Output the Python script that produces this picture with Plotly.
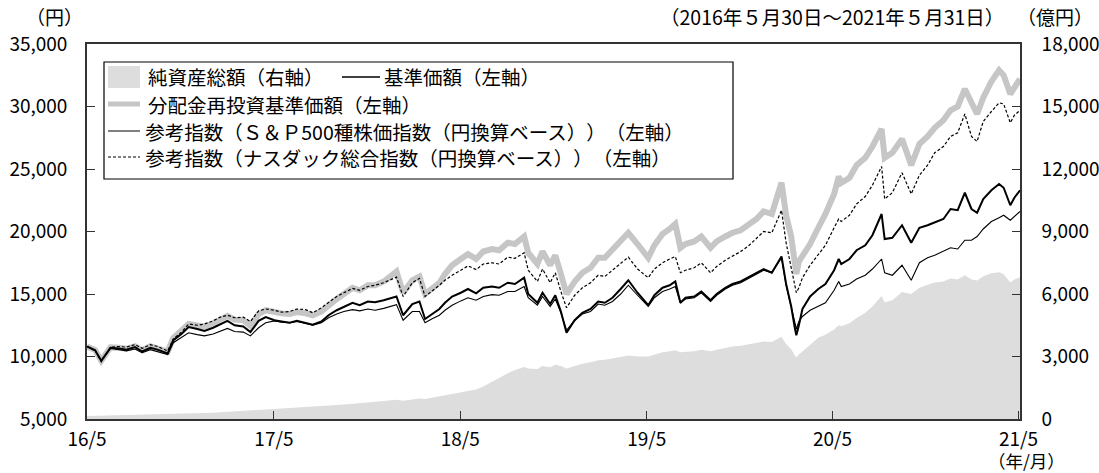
import plotly.graph_objects as go

dates = [
    "2016-05-30", "2016-06-15", "2016-06-27", "2016-07-15", "2016-08-01", "2016-08-15",
    "2016-09-01", "2016-09-15", "2016-10-01", "2016-10-15", "2016-11-04", "2016-11-15",
    "2016-12-01", "2016-12-15", "2017-01-01", "2017-01-15", "2017-02-01", "2017-02-15",
    "2017-03-01", "2017-03-15", "2017-04-01", "2017-04-15", "2017-05-01", "2017-05-15",
    "2017-06-01", "2017-06-15", "2017-07-01", "2017-07-15", "2017-08-01", "2017-08-15",
    "2017-09-01", "2017-09-15", "2017-10-01", "2017-10-15", "2017-11-01", "2017-11-15",
    "2017-12-01", "2017-12-15", "2018-01-01", "2018-01-26", "2018-02-08", "2018-02-26",
    "2018-03-12", "2018-03-23", "2018-04-05", "2018-04-20", "2018-05-01", "2018-05-15",
    "2018-06-01", "2018-06-15", "2018-07-01", "2018-07-15", "2018-08-01", "2018-08-15",
    "2018-09-01", "2018-09-15", "2018-10-03", "2018-10-11", "2018-10-29", "2018-11-08",
    "2018-11-23", "2018-12-03", "2018-12-14", "2018-12-25", "2019-01-10", "2019-01-25",
    "2019-02-10", "2019-02-25", "2019-03-10", "2019-03-25", "2019-04-10", "2019-04-25",
    "2019-05-13", "2019-06-03", "2019-06-15", "2019-07-01", "2019-07-15", "2019-07-26",
    "2019-08-05", "2019-08-15", "2019-09-01", "2019-09-15", "2019-10-03", "2019-10-15",
    "2019-11-01", "2019-11-15", "2019-12-01", "2019-12-15", "2020-01-01", "2020-01-15",
    "2020-01-31", "2020-02-19", "2020-02-28", "2020-03-09", "2020-03-16", "2020-03-19",
    "2020-03-24", "2020-03-31", "2020-04-15", "2020-05-01", "2020-05-15", "2020-06-01",
    "2020-06-10", "2020-06-15", "2020-07-01", "2020-07-15", "2020-08-01", "2020-08-15",
    "2020-09-02", "2020-09-08", "2020-09-23", "2020-10-12", "2020-10-30", "2020-11-15",
    "2020-12-01", "2020-12-15", "2021-01-01", "2021-01-15", "2021-01-29", "2021-02-12",
    "2021-02-25", "2021-03-08", "2021-03-20", "2021-04-05", "2021-04-20", "2021-04-29",
    "2021-05-12", "2021-05-20", "2021-05-31",
]

# 基準価額（左軸, 円）
nav = [
    10800, 10500, 9650, 10700, 10650, 10550, 10750, 10400, 10700, 10550, 10250, 11300,
    11800, 12350, 12200, 12050, 12300, 12600, 12850, 12500, 12400, 11950, 12850, 13150,
    12900, 12800, 12700, 12850, 12700, 12550, 12800, 13300, 13700, 14000, 14300, 14100,
    14400, 14350, 14500, 14800, 13300, 14200, 14400, 13000, 13400, 13800, 14300, 14800,
    15100, 15400, 15050, 15500, 15600, 15500, 15900, 15800, 16300, 15000, 14300, 15100,
    14200, 14900, 13600, 11900, 12900, 13500, 13800, 14400, 14300, 14700, 15400, 16100,
    15100, 14100, 14900, 15500, 15700, 16000, 14300, 14700, 14800, 15200, 14500, 15000,
    15500, 15800, 16000, 16300, 16700, 17000, 16700, 18000, 15800, 14000, 12300, 11700,
    12500, 13800, 14800, 15400, 15800, 16900, 17800, 17400, 17800, 18500, 18900, 19700,
    21400, 19400, 19500, 20500, 19100, 20300, 20500, 20700, 21000, 21800, 21700, 23100,
    21800, 21500, 22600, 23300, 23800, 23500, 22100, 22700, 23300,
]

# 分配金再投資基準価額（左軸, 円）
nav_reinvested = [
    10800, 10520, 9670, 10730, 10700, 10620, 10830, 10500, 10820, 10680, 10400, 11480,
    12000, 12600, 12480, 12380, 12650, 12980, 13250, 12950, 12900, 12450, 13400, 13700,
    13500, 13450, 13400, 13550, 13450, 13300, 13600, 14100, 14600, 15000, 15500, 15300,
    15700, 15700, 16000, 16800, 15100, 16100, 16400, 15000, 15400, 15900, 16600, 17300,
    17800, 18200, 17800, 18400, 18600, 18500, 19100, 19000, 19600, 18300, 17400, 18400,
    17300, 18100, 16600, 15000, 16000, 16700, 17100, 17900, 17900, 18500, 19300, 19900,
    19000, 17900, 18900, 19800, 20200, 20600, 18700, 19000, 19200, 19600, 18700, 19200,
    19600, 19900, 20100, 20500, 21000, 21600, 21400, 23900, 21300, 19600, 17700, 16600,
    17600, 18000, 19000, 20300, 21400, 23000, 24400, 23900, 24300, 25300, 25900, 26800,
    28200, 25900, 26300, 27400, 25300, 27000, 27600, 28300, 28900, 29700, 30000, 31400,
    30300, 29400, 30700, 32000, 32900, 32500, 31000, 31600, 32200,
]

# 参考指数（S&P500種株価指数（円換算ベース））（左軸）
sp500 = [
    10800, 10480, 9700, 10650, 10550, 10450, 10600, 10300, 10550, 10400, 10150, 11100,
    11500, 11900, 11750, 11650, 11800, 12050, 12250, 12000, 11950, 11650, 12300, 12700,
    12850, 12750, 12700, 12800, 12650, 12500, 12700, 13100, 13400, 13600, 13750, 13650,
    13800, 13700, 13850, 14150, 12900, 13600, 13600, 12700, 13000, 13300, 13700, 14100,
    14450, 14700, 14500, 14800, 14950, 14900, 15200, 15200, 15600, 14700, 14100, 14800,
    14000, 14600, 13500, 12100, 12900, 13400, 13600, 14200, 14100, 14400, 15000, 15700,
    14900, 14000, 14700, 15200, 15400, 15600, 14300, 14600, 14700, 15100, 14400, 14900,
    15400, 15700, 15900, 16200, 16600, 16900, 16700, 17900, 15700, 14000, 12600, 12200,
    12800, 13200, 13700, 14000, 14300, 15300, 16000, 15600, 15800, 16200, 16500, 17000,
    17800, 16700, 16500, 17300, 16100, 17500, 17900, 18100, 18400, 18700, 18600, 19300,
    19300, 19600, 20200, 20800, 21100, 21300, 20900, 21200, 21600,
]

# 参考指数（ナスダック総合指数（円換算ベース））（左軸）
nasdaq = [
    10800, 10450, 9600, 10750, 10800, 10750, 10950, 10650, 10950, 10800, 10450, 11400,
    11950, 12600, 12500, 12600, 12850, 13150, 13300, 13100, 13150, 12800, 13650, 13800,
    13700, 13550, 13600, 13800, 13750, 13500, 13900, 14300, 14800, 15100, 15450, 15300,
    15600, 15700, 15900, 16350, 14800, 15900, 16250, 14800, 15200, 15700, 16100, 16500,
    16900, 17250, 16950, 17400, 17500, 17400, 17950, 17850, 18300, 16900, 16000, 17000,
    15900, 16700, 15200, 13900, 14900, 15500, 15900, 16500, 16400, 16900, 17500, 17950,
    17000, 16300, 17000, 17500, 17800, 18000, 16700, 16900, 17100, 17500, 16700, 17200,
    17700, 18000, 18400, 18800, 19500, 20000, 19900, 21700, 19100, 17000, 15700, 15100,
    15500, 16300, 17300, 18200, 18900, 20300, 21000, 20800, 21300, 22200, 22800, 23700,
    25200, 22600, 23100, 24700, 23000, 24500, 25300, 26300, 26800, 27600, 27900, 29400,
    27600, 27200, 28800, 29600, 30300, 30200, 28700, 29300, 29700,
]

# 純資産総額（右軸, 億円）
net_assets = [
    150, 160, 160, 170, 180, 185, 190, 200, 205, 210, 215, 225,
    240, 255, 270, 285, 300, 320, 340, 360, 380, 400, 430, 460,
    490, 510, 530, 550, 570, 590, 610, 640, 670, 700, 730, 760,
    790, 820, 860, 930, 880, 940, 990, 960, 1020, 1080, 1130, 1180,
    1260, 1320, 1420, 1560, 1800, 2000, 2200, 2350, 2500, 2420, 2400, 2550,
    2480, 2600, 2550, 2420, 2550, 2650, 2720, 2820, 2850, 2900, 2980, 3050,
    3000, 3000, 3100, 3200, 3250, 3300, 3200, 3220, 3250, 3330, 3250, 3330,
    3420, 3480, 3520, 3580, 3650, 3720, 3700, 3950, 3600, 3350, 3050, 2950,
    3100, 3250, 3600, 3900, 4050, 4300, 4500, 4450, 4600, 4850, 5100, 5400,
    5900, 5600, 5700, 6100, 6000, 6300, 6450, 6550, 6600, 6750, 6700, 6900,
    6700, 6650, 6850, 7000, 7050, 6950, 6550, 6700, 6800,
]

x_tick_vals = ["2016-05-30", "2017-05-31", "2018-05-31", "2019-05-31", "2020-05-29", "2021-05-28"]
x_tick_text = ["16/5", "17/5", "18/5", "19/5", "20/5", "21/5"]
left_tick_vals = [5000, 10000, 15000, 20000, 25000, 30000, 35000]
left_tick_text = ["5,000", "10,000", "15,000", "20,000", "25,000", "30,000", "35,000"]
right_tick_vals = [0, 3000, 6000, 9000, 12000, 15000, 18000]
right_tick_text = ["0", "3,000", "6,000", "9,000", "12,000", "15,000", "18,000"]

FONT = "Noto Sans CJK JP, Noto Sans CJK SC, sans-serif"
FS = 19.5
TICK_FS = 19
AREA = "#dcdddc"
GRAYLINE = "#c6c6c6"
AX = "#333333"

fig = go.Figure()
fig.add_trace(go.Scatter(x=dates, y=net_assets, yaxis="y", mode="lines",
                         fill="tozeroy", fillcolor=AREA,
                         line=dict(width=0, color=AREA), name="純資産総額（右軸）",
                         showlegend=False, hoverinfo="skip"))
fig.add_trace(go.Scatter(x=dates, y=nav_reinvested, yaxis="y2", mode="lines",
                         line=dict(width=6, color=GRAYLINE), name="分配金再投資基準価額（左軸）",
                         showlegend=False))
fig.add_trace(go.Scatter(x=dates, y=nasdaq, yaxis="y2", mode="lines",
                         line=dict(width=1.2, color="#000000", dash="3px,2px"),
                         name="参考指数（ナスダック総合指数（円換算ベース））（左軸）",
                         showlegend=False))
fig.add_trace(go.Scatter(x=dates, y=sp500, yaxis="y2", mode="lines",
                         line=dict(width=1.1, color="#000000"),
                         name="参考指数（Ｓ＆Ｐ500種株価指数（円換算ベース））（左軸）",
                         showlegend=False))
fig.add_trace(go.Scatter(x=dates, y=nav, yaxis="y2", mode="lines",
                         line=dict(width=2, color="#000000"), name="基準価額（左軸）",
                         showlegend=False))

PL, PR, PT, PB = 87, 1020, 44, 419
W, H = 1099, 473


def px(x):
    return (x - PL) / (PR - PL)


def py(y):
    return (PB - y) / (PB - PT)


shapes = []
annotations = []
# legend box
shapes.append(dict(type="rect", xref="paper", yref="paper", x0=px(104), x1=px(733),
                   y0=py(179), y1=py(62), line=dict(color="#000000", width=1.2),
                   fillcolor="#ffffff", layer="above"))
rows = [77, 104, 131, 157]
# row 1: area swatch + NAV line
shapes.append(dict(type="rect", xref="paper", yref="paper", x0=px(108), x1=px(140),
                   y0=py(88), y1=py(66), line=dict(width=0), fillcolor=AREA, layer="above"))
annotations.append(dict(text="純資産総額（右軸）", x=px(146), y=py(rows[0]), xref="paper",
                        yref="paper", xanchor="left", yanchor="middle", showarrow=False))
shapes.append(dict(type="line", xref="paper", yref="paper", x0=px(342), x1=px(380),
                   y0=py(rows[0]), y1=py(rows[0]), line=dict(color="#000000", width=1.4),
                   layer="above"))
annotations.append(dict(text="基準価額（左軸）", x=px(382), y=py(rows[0]), xref="paper",
                        yref="paper", xanchor="left", yanchor="middle", showarrow=False))
# row 2
shapes.append(dict(type="line", xref="paper", yref="paper", x0=px(108), x1=px(140),
                   y0=py(rows[1]), y1=py(rows[1]), line=dict(color=GRAYLINE, width=5),
                   layer="above"))
annotations.append(dict(text="分配金再投資基準価額（左軸）", x=px(146), y=py(rows[1]),
                        xref="paper", yref="paper", xanchor="left", yanchor="middle",
                        showarrow=False))
# row 3 (xshift compensates the un-trimmed punctuation width)
shapes.append(dict(type="line", xref="paper", yref="paper", x0=px(108), x1=px(140),
                   y0=py(rows[2]), y1=py(rows[2]), line=dict(color="#000000", width=1),
                   layer="above"))
annotations.append(dict(text="参考指数（Ｓ＆Ｐ500種株価指数（円換算ベース））（左軸）",
                        x=px(146), y=py(rows[2]), xref="paper", yref="paper", xshift=7,
                        xanchor="left", yanchor="middle", showarrow=False))
# row 4
shapes.append(dict(type="line", xref="paper", yref="paper", x0=px(108), x1=px(140),
                   y0=py(rows[3]), y1=py(rows[3]),
                   line=dict(color="#000000", width=1, dash="3px,2px"), layer="above"))
annotations.append(dict(text="参考指数（ナスダック総合指数（円換算ベース））（左軸）",
                        x=px(146), y=py(rows[3]), xref="paper", yref="paper", xshift=7,
                        xanchor="left", yanchor="middle", showarrow=False))

# header / unit texts
annotations.append(dict(text="（円）", x=px(54), y=py(16), xref="paper", yref="paper",
                        xanchor="center", yanchor="middle", showarrow=False,
                        font=dict(size=19)))
annotations.append(dict(text="（2016年５月30日～2021年５月31日）", x=px(1006), y=py(17),
                        xref="paper", yref="paper", xanchor="right", yanchor="middle",
                        showarrow=False))
annotations.append(dict(text="（億円）", x=px(1055), y=py(16), xref="paper", yref="paper",
                        xanchor="center", yanchor="middle", showarrow=False,
                        font=dict(size=19)))
annotations.append(dict(text="（年/月）", x=px(1026), y=py(460), xref="paper", yref="paper",
                        xanchor="center", yanchor="middle", showarrow=False,
                        font=dict(size=17.5)))

fig.update_layout(
    width=W, height=H,
    margin=dict(l=PL, r=W - PR, t=PT, b=H - PB, autoexpand=False),
    paper_bgcolor="#ffffff", plot_bgcolor="#ffffff",
    font=dict(family=FONT, size=FS, color="#000000"),
    showlegend=False,
    shapes=shapes,
    annotations=annotations,
    xaxis=dict(type="date", range=["2016-05-30", "2021-05-31"],
               tickvals=x_tick_vals, ticktext=x_tick_text, tickfont=dict(size=TICK_FS),
               ticks="inside", ticklen=8, tickwidth=1.3, tickcolor=AX,
               showline=True, linecolor=AX, linewidth=1.6, mirror=True,
               showgrid=False, zeroline=False, automargin=False, ticklabelstandoff=2),
    yaxis=dict(range=[0, 18000], side="right",
               tickvals=right_tick_vals, ticktext=right_tick_text, tickfont=dict(size=TICK_FS),
               ticks="inside", ticklen=8, tickwidth=1.3, tickcolor=AX,
               showline=True, linecolor=AX, linewidth=1.6,
               showgrid=False, zeroline=False, automargin=False, ticklabelstandoff=16),
    yaxis2=dict(range=[5000, 35000], side="left", overlaying="y",
                tickvals=left_tick_vals, ticktext=left_tick_text, tickfont=dict(size=TICK_FS),
                ticks="inside", ticklen=8, tickwidth=1.3, tickcolor=AX,
                showline=True, linecolor=AX, linewidth=1.6,
                showgrid=False, zeroline=False, automargin=False, ticklabelstandoff=14),
)

# Remove the default page margin and keep full-width CJK punctuation un-trimmed.
page_fix = (
    "document.body.style.margin='0px';"
    "var st=document.createElement('style');"
    "st.textContent='text{text-spacing-trim:space-all !important;}';"
    "document.head.appendChild(st);"
)

fig.write_html("out.html", post_script=page_fix, config={"displayModeBar": False})
